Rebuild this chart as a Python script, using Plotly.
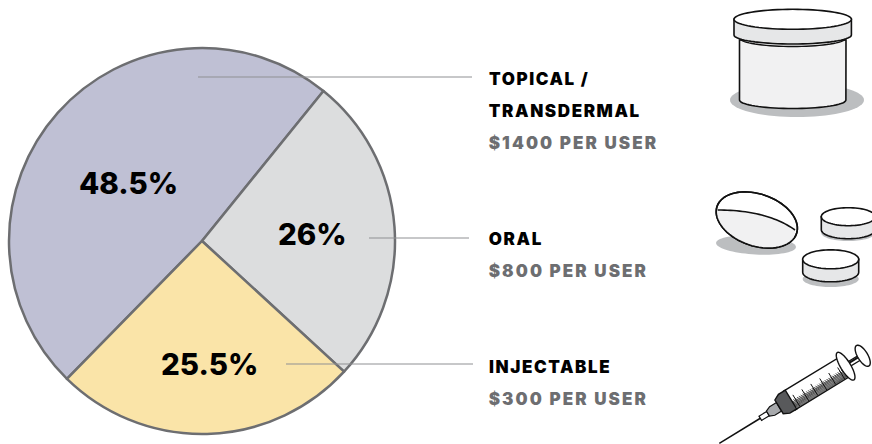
import math
import plotly.graph_objects as go

W, H = 872, 444

# ---- data ----
categories = ["Topical / Transdermal", "Oral", "Injectable"]
shares = [48.5, 26, 25.5]
share_labels = ["48.5%", "26%", "25.5%"]
name_lines = [["TOPICAL /", "TRANSDERMAL"], ["ORAL"], ["INJECTABLE"]]
cost_labels = ["$1400 PER USER", "$800 PER USER", "$300 PER USER"]

# ---- style / layout ----
slice_colors = ["#bfc0d4", "#dcddde", "#fae4a8"]
OUT = "#6d6e71"
INK = "#111111"
SHADOW = "#bcbec0"
FONT = "Inter"
LABEL_SIZE = 17
share_pos = [(128, 183), (312, 234), (209, 364)]
text_rows = [[79, 111, 143], [239, 271], [367, 399]]
leaders = [(198, 472, 77), (369, 469, 238), (286, 473, 364)]
CX, CY, R = 202, 241, 193


def X(x):
    return x / W


def Y(y):
    return 1 - y / H


def P(x, y):
    return f"{X(x):.5f},{Y(y):.5f}"


def poly(pts, close=True):
    s = "M" + " L".join(P(*p) for p in pts)
    return s + (" Z" if close else "")


def ell_pts(cx, cy, rx, ry, rot=0, a0=0, a1=360, n=72):
    out = []
    c, s = math.cos(math.radians(rot)), math.sin(math.radians(rot))
    for i in range(n + 1):
        t = math.radians(a0 + (a1 - a0) * i / n)
        ex, ey = rx * math.cos(t), ry * math.sin(t)
        out.append((cx + ex * c - ey * s, cy + ex * s + ey * c))
    return out


shapes = []


def add(path, fill="rgba(0,0,0,0)", line=INK, lw=1.6):
    shapes.append(dict(type="path", xref="paper", yref="paper", path=path,
                       fillcolor=fill, layer="above",
                       line=dict(color=line if line else "rgba(0,0,0,0)", width=lw if line else 0)))


def disc(cx, cy, rx, ry, fill, rot=0, line=INK, lw=1.6):
    add(poly(ell_pts(cx, cy, rx, ry, rot)), fill, line, lw)


# leader lines
for x0, x1, y in leaders:
    shapes.append(dict(type="line", xref="paper", yref="paper", x0=X(x0), x1=X(x1), y0=Y(y), y1=Y(y),
                       layer="above", line=dict(color="#8f9093", width=1)))

# --- jar ---
disc(797, 100, 67, 17, SHADOW, line=None)
body = [(739.5, 40)] + [(792.7 + 53.2 * math.cos(math.radians(a)), 100 + 8.5 * math.sin(math.radians(a))) for a in range(180, -1, -5)] + [(846, 40)]
add(poly(body), "#f1f1f2")
add(poly(ell_pts(792.7, 38, 53.2, 8.5, 0, 180, 0, 36), False), lw=1.4)
lid = [(734, 19.3)] + [(792.7 + 58.7 * math.cos(math.radians(a)), 35 + 9 * math.sin(math.radians(a))) for a in range(180, -1, -5)] + [(851.4, 19.3)]
add(poly(lid), "#e6e7e8")
disc(792.7, 19.3, 58.7, 10, "#ffffff")

# --- pills ---
disc(756, 245, 40, 9.5, SHADOW, rot=3, line=None)
PILL = (756.8, 220, 42, 26, 19)
disc(*PILL[:4], "#ffffff", rot=PILL[4])
q0, qc, q2 = (717.7, 210), (767, 210), (795, 230)
chord = [((1 - t) ** 2 * q0[0] + 2 * t * (1 - t) * qc[0] + t * t * q2[0],
          (1 - t) ** 2 * q0[1] + 2 * t * (1 - t) * qc[1] + t * t * q2[1]) for t in [i / 30 for i in range(31)]]
low = ell_pts(*PILL, 12, 172, 40) + chord
add(poly(low), "#f1f1f2", None)
add(poly(chord, False))
disc(*PILL[:4], "rgba(0,0,0,0)", rot=PILL[4])


def tablet(cx, cy, rx, ry, h, sh_y, sh_ry):
    disc(cx, sh_y, rx, sh_ry, SHADOW, line=None)
    side = [(cx - rx, cy)] + [(cx + rx * math.cos(math.radians(a)), cy + h + ry * math.sin(math.radians(a))) for a in range(180, -1, -6)] + [(cx + rx, cy)]
    add(poly(side), "#e6e7e8")
    disc(cx, cy, rx, ry, "#ffffff")


tablet(848.3, 216.7, 27, 9, 13, 233, 8)
tablet(830.7, 259.3, 28, 9.5, 13, 279, 8)

# --- syringe (local axis u along the barrel, v across) ---
TX, TY = 719.3, 443.3
ang = math.radians(31.4)


def L(u, v):
    return (TX + u * math.cos(ang) + v * math.sin(ang), TY - u * math.sin(ang) + v * math.cos(ang))


add(poly([L(0, 0), L(50, 0)], False), lw=1.5)
add(poly([L(48, -2.5), L(57, -2.5), L(57, 2.5), L(48, 2.5)]), "#ffffff", lw=1.2)
add(poly([L(57, -3), L(62, -5), L(70, -5), L(70, 5), L(62, 5), L(57, 3)]), "#a7a9ac", lw=1.2)
add(poly([L(82, -11), L(146, -11), L(146, 11), L(82, 11)]), "#ffffff", lw=1.4)
for k in range(86):
    u = 84 + k * 0.72
    add(poly([L(u, 1 + (k % 3)), L(u + 1.2, 10.5)], False), line="#333333", lw=0.8)
for k in range(6):
    u = 88 + k * 10.5
    add(poly([L(u, -3), L(u, 10.5)], False), lw=1.0)
add(poly([L(70, -8), L(76, -11), L(84, -11), L(84, 11), L(76, 11), L(70, 8)]), "#58595b", lw=1.4)
add(poly([L(146, -2.5), L(166, -2.5), L(166, 2.5), L(146, 2.5)]), "#ffffff", lw=1.2)
add(poly([L(150, -1), L(166, -1)], False), lw=2)
f1 = [L(148 + 5 * math.cos(t / 20 * math.pi), 16 * math.sin(t / 20 * math.pi)) for t in range(40)]
add(poly(f1), "#ffffff", lw=1.4)
f2 = [L(168 + 5 * math.cos(t / 20 * math.pi), 12 * math.sin(t / 20 * math.pi)) for t in range(40)]
add(poly(f2), "#ffffff", lw=1.4)

# --- text ---
ann = []


def text(x, y, s, size, color, weight=900):
    ann.append(dict(x=X(x), y=Y(y), xref="paper", yref="paper", text=s, showarrow=False,
                    xanchor="left" if x > 400 else "center", yanchor="middle",
                    font=dict(family=FONT, size=size, color=color, weight=weight)))


for lab, (x, y) in zip(share_labels, share_pos):
    text(x, y, lab, 29.5, "#000000", 800)

for names, cost, rows in zip(name_lines, cost_labels, text_rows):
    for n, y in zip(names, rows):
        text(487, y, n, LABEL_SIZE, "#000000")
    text(487, rows[-1], cost, LABEL_SIZE, OUT)

fig = go.Figure(go.Pie(
    labels=categories, values=shares, sort=False, direction="clockwise", rotation=224.4,
    marker=dict(colors=slice_colors, line=dict(color=OUT, width=2.5)),
    textinfo="none", hoverinfo="label+percent",
    domain=dict(x=[X(CX - R), X(CX + R)], y=[Y(CY + R), Y(CY - R)]),
))
fig.update_layout(width=W, height=H, margin=dict(l=0, r=0, t=0, b=0), showlegend=False,
                  paper_bgcolor="#ffffff", plot_bgcolor="#ffffff", shapes=shapes, annotations=ann)
post = """
document.body.style.margin='0';
document.querySelectorAll('.annotation-text').forEach(function(t){
  if (parseFloat(t.style.fontSize) !== %d) return;
  var b = t.getBBox().width;
  t.style.letterSpacing = t.textContent.indexOf('USER') >= 0 ? '2.1px' : '1.6px';
  var a = t.getBBox().width;
  t.setAttribute('x', parseFloat(t.getAttribute('x')) + (a - b) / 2);
});
""" % LABEL_SIZE
fig.write_html("out.html", config={"displayModeBar": False}, post_script=post)
